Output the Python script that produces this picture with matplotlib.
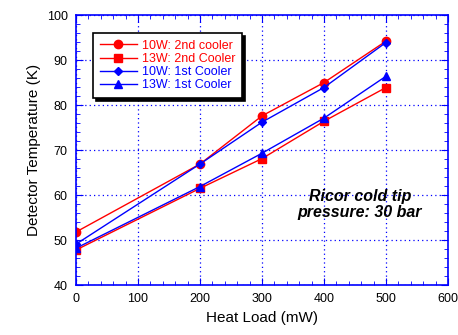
import numpy as np
import matplotlib.pyplot as plt
from matplotlib.ticker import MultipleLocator

plt.rcParams['font.family'] = ['Liberation Sans', 'DejaVu Sans']

heat_load = [0, 200, 300, 400, 500]
t_10w_2nd = [51.8, 66.9, 77.6, 85.0, 94.2]
t_13w_2nd = [47.8, 61.5, 68.1, 76.4, 83.9]
t_10w_1st = [49.1, 66.9, 76.2, 83.9, 93.9]
t_13w_1st = [48.2, 61.9, 69.3, 77.1, 86.4]

series = [
    ('10W: 2nd cooler', t_10w_2nd, 'red', 'o', 6),
    ('13W: 2nd Cooler', t_13w_2nd, 'red', 's', 6),
    ('10W: 1st Cooler', t_10w_1st, 'blue', 'D', 4),
    ('13W: 1st Cooler', t_13w_1st, 'blue', '^', 6),
]

fig = plt.figure(figsize=(4.58, 3.35), dpi=100)
ax = fig.add_axes([0.166, 0.149, 0.812, 0.806])

for label, vals, color, marker, ms in series:
    ax.plot(heat_load, vals, color=color, marker=marker, ms=ms, lw=1,
            label=label)

ax.set_xlim(0, 600)
ax.set_ylim(40, 100)
ax.xaxis.set_major_locator(MultipleLocator(100))
ax.xaxis.set_minor_locator(MultipleLocator(20))
ax.yaxis.set_major_locator(MultipleLocator(10))
ax.yaxis.set_minor_locator(MultipleLocator(2))
ax.grid(True, which='major', color='blue', ls=(0, (1, 2.5)), lw=0.9)
for side in ax.spines.values():
    side.set_color('blue')
    side.set_linewidth(1.2)
ax.tick_params(which='both', direction='in', top=True, right=True,
               color='blue', labelsize=9, pad=6)
ax.tick_params(which='major', length=5)
ax.tick_params(which='minor', length=3)

ax.set_xlabel('Heat Load (mW)', fontsize=11)
ax.set_ylabel('Detector Temperature (K)', fontsize=11)

leg = ax.legend(loc='upper left', bbox_to_anchor=(0.03, 0.955), fontsize=9,
                frameon=True, fancybox=False, shadow={'color': 'black', 'alpha': 1},
                edgecolor='black', handlelength=3.0, handletextpad=0.4,
                borderpad=0.5, labelspacing=0.1)
leg.get_frame().set_linewidth(1.2)
for text, (_, _, color, _, _) in zip(leg.get_texts(), series):
    text.set_color(color)

ax.text(458, 57.9, 'Ricor cold tip\npressure: 30 bar', ha='center', va='center',
        fontsize=11.5, fontweight='bold', fontstyle='italic', linespacing=1.05)

fig.savefig('out.png', dpi=100)
